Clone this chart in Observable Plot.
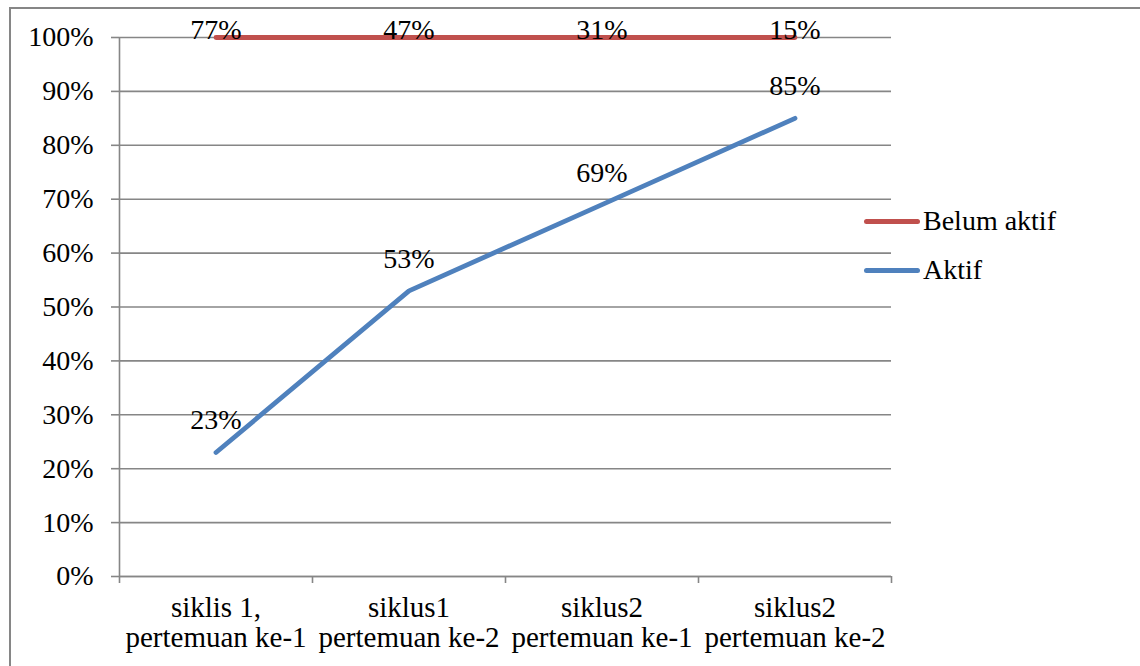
<!DOCTYPE html>
<html>
<head>
<meta charset="utf-8">
<script src="https://cdn.jsdelivr.net/npm/d3@7"></script>
<script src="https://cdn.jsdelivr.net/npm/@observablehq/plot@0.6"></script>
<style>
  html, body { margin: 0; padding: 0; background: #fff; }
  #wrap { position: relative; width: 1140px; height: 666px; overflow: hidden; font-family: "Liberation Serif", serif; }
  #frame { position: absolute; left: 9px; top: 7px; width: 1200px; height: 700px; border-top: 2px solid #868686; border-left: 2px solid #868686; }
  #chart { position: absolute; left: 0; top: 0; }
  .legend { position: absolute; left: 864px; display: flex; align-items: center; font-size: 28px; color: #000; }
  .legend .sw { width: 56px; height: 5px; border-radius: 3px; margin-right: 3px; }
</style>
</head>
<body>
<div id="wrap">
  <div id="frame"></div>
  <div id="chart"></div>
  <div id="legend"></div>
</div>
<script>
const categories = ["siklis 1,\npertemuan ke-1", "siklus1\npertemuan ke-2", "siklus2\npertemuan ke-1", "siklus2\npertemuan ke-2"];
const seriesNames = ["Aktif", "Belum aktif"];
const seriesColors = ["#4F81BD", "#C0504D"];
const aktif = [0.23, 0.53, 0.69, 0.85];
const belumAktif = [0.77, 0.47, 0.31, 0.15];
const yTicks = [0, 0.1, 0.2, 0.3, 0.4, 0.5, 0.6, 0.7, 0.8, 0.9, 1.0];

const rows = [
  ...aktif.map((v, i) => ({i, cat: categories[i], series: "Aktif", value: v})),
  ...belumAktif.map((v, i) => ({i, cat: categories[i], series: "Belum aktif", value: v}))
];
const pct = d3.format(".0%");
const gray = "#868686";
const FS = 28;

const chart = Plot.plot({
  width: 1140,
  height: 666,
  marginLeft: 119,
  marginRight: 249,
  marginTop: 37,
  marginBottom: 90,
  style: {fontFamily: "Liberation Serif, serif", fontSize: FS + "px", color: "#000", background: "transparent"},
  x: {domain: [0, categories.length], axis: null},
  y: {domain: [0, 1], axis: null},
  color: {domain: seriesNames, range: seriesColors},
  marks: [
    Plot.gridY(yTicks, {stroke: gray, strokeOpacity: 1, strokeWidth: 1.6}),
    Plot.axisY(yTicks, {label: null, tickFormat: pct, tickSize: 8, tickPadding: 18, stroke: gray, strokeWidth: 1.6, fill: "#000", fontSize: FS}),
    Plot.ruleX([0], {stroke: gray, strokeWidth: 1.6}),
    Plot.ruleY([0], {stroke: gray, strokeWidth: 1.6}),
    Plot.axisX(d3.range(categories.length + 1), {label: null, tickFormat: () => "", tickSize: 7, stroke: gray, strokeWidth: 1.6}),
    Plot.text(categories, {x: (d, i) => i + 0.5, frameAnchor: "bottom", lineAnchor: "middle", dy: 46, text: d => d, lineHeight: 1.04, fill: "#000", fontSize: 29}),
    Plot.line(rows, Plot.stackY2({x: d => d.i + 0.5, y: "value", z: "series", stroke: "series", strokeWidth: 4.8, strokeLinecap: "round", strokeLinejoin: "round"})),
    Plot.text(rows, Plot.stackY2({x: d => d.i + 0.5, y: "value", z: "series", text: d => d.series === "Aktif" ? pct(d.value) : "", dy: -32, fill: "#000", fontSize: FS})),
    Plot.text(rows, Plot.stackY2({x: d => d.i + 0.5, y: "value", z: "series", text: d => d.series === "Belum aktif" ? pct(d.value) : "", dy: -7, fill: "#000", fontSize: FS}))
  ]
});
document.getElementById("chart").appendChild(chart);

// legend (Belum aktif above Aktif, as in the reference)
const legend = document.getElementById("legend");
const legendOrder = ["Belum aktif", "Aktif"];
const legendTops = [221, 270];
legendOrder.forEach((name, k) => {
  const el = document.createElement("div");
  el.className = "legend";
  el.style.top = (legendTops[k] - 18) + "px";
  el.style.height = "36px";
  const sw = document.createElement("div");
  sw.className = "sw";
  sw.style.background = seriesColors[seriesNames.indexOf(name)];
  const t = document.createElement("span");
  t.textContent = name;
  el.appendChild(sw);
  el.appendChild(t);
  legend.appendChild(el);
});
</script>
</body>
</html>
